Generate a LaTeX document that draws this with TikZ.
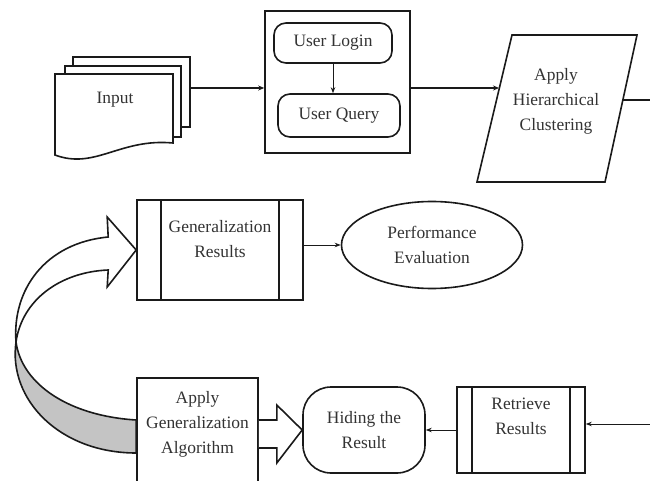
\documentclass[tikz,border=0pt]{standalone}
\usepackage{fontspec}
\setmainfont{Liberation Serif}
\usetikzlibrary{arrows.meta,positioning,calc,shapes.geometric}
\definecolor{ribbon}{HTML}{C4C4C4}
\definecolor{ink}{HTML}{1A1A1A}

\begin{document}
\begin{tikzpicture}[x=1bp,y=-1bp,
  every node/.style={font=\fontsize{17.5}{25}\selectfont,text=black!80,align=center,inner sep=0pt},
  box/.style={draw=ink,line width=1.6bp},
  rbox/.style={box,rounded corners=12bp},
  link/.style={draw=ink,line width=1.6bp,-{Stealth[length=6bp,width=5bp]}},
  thinlink/.style={draw=ink,line width=0.8bp,-{Stealth[length=6bp,width=4.5bp]}}]
  \useasboundingbox (0,0) rectangle (650,481);
  \clip (0,0) rectangle (650,481);

  % stacked input documents
  \draw[box] (73,66) -- (73,57) -- (190,57) -- (190,127) -- (181,127);
  \draw[box] (65,74) -- (65,66) -- (181,66) -- (181,137) -- (173,137);
  \draw[box,fill=white] (55,74) -- (173,74) -- (173,143) .. controls (120,138) and (95,170) .. (55,155) -- cycle;
  \node (inp) at (115,100) {Input};
  \coordinate (stack) at (190,88);

  % login group
  \node[box,minimum width=145bp,minimum height=142bp] (grp) at (337.5,82) {};
  \node[rbox,minimum width=118bp,minimum height=40bp] (login) at (333,43) {User Login};
  \node[rbox,minimum width=122bp,minimum height=43bp] (query) at (339,115.5) {User Query};
  \draw[thinlink] (login.south) -- (login.south |- query.north);

  % clustering step
  \draw[box] (512,35) -- (637,35) -- (605,182) -- (477,182) -- cycle;
  \node (par) at (556,101) {Apply\\Hierarchical\\Clustering};
  \coordinate (parin) at (499,88);
  \coordinate (parout) at (622,100);
  \coordinate (exit) at (660,100);

  \draw[link] (stack) -- (stack -| grp.west);
  \draw[link] (grp.east |- parin) -- (parin);
  \draw[box] (parout) -- (exit);

  % results and evaluation
  \node[box,fill=white,minimum width=166bp,minimum height=100bp,text depth=22bp] (genres) at (220,250) {Generalization\\Results};
  \node[box,ellipse,minimum width=181bp,minimum height=87bp] (perf) at (432,245) {Performance\\Evaluation};
  \draw[thinlink] (genres.east |- perf.west) -- (perf.west);

  \node[box,minimum width=121bp,minimum height=112bp] (algo) at (197.5,434) {};
  \node (algotxt) at (197.5,424) {Apply\\Generalization\\Algorithm};
  \node[box,rounded corners=28bp,minimum width=122bp,minimum height=86bp] (hide) at (364,430) {Hiding the\\Result};
  \node[box,minimum width=128bp,minimum height=86bp,text depth=28bp] (ret) at (521,430) {Retrieve\\Results};
  \foreach \n/\d in {genres/25bp,ret/16bp}{
    \draw[box] ([xshift=\d]\n.north west) -- ([xshift=\d]\n.south west);
    \draw[box] ([xshift=-\d]\n.north east) -- ([xshift=-\d]\n.south east);}

  \coordinate (feed) at (660,424);
  \draw[thinlink] (feed) -- (feed -| ret.east);
  \draw[thinlink] (ret.west) -- (hide.east);

  % block arrow into the hiding step
  \draw[box,fill=white] ($(algo.east)+(0,-14)$) -- ++(18,0) -- ($(algo.east)+(18,-29)$) -- (hide.west)
    -- ($(algo.east)+(18,29)$) -- ($(algo.east)+(18,14)$) -- ($(algo.east)+(0,14)$);

  % twisted ribbon arrow back up to the results
  \coordinate (twist) at (16,342);
  \draw[box,fill=ribbon] (twist) .. controls (22,385) and (70,416) .. ($(algo.west)+(0,-14)$)
    -- ($(algo.west)+(0,19)$) .. controls (60,453) and (8,400) .. (twist);
  \draw[box,fill=white] (twist) .. controls (12,290) and (45,243) .. ($(genres.west)+(-28,-13)$)
    -- ($(genres.west)+(-29,-33)$) -- (genres.west) -- ($(genres.west)+(-29,37)$)
    -- ($(genres.west)+(-28,20)$) .. controls (60,272) and (22,300) .. (twist);
\end{tikzpicture}
\end{document}
